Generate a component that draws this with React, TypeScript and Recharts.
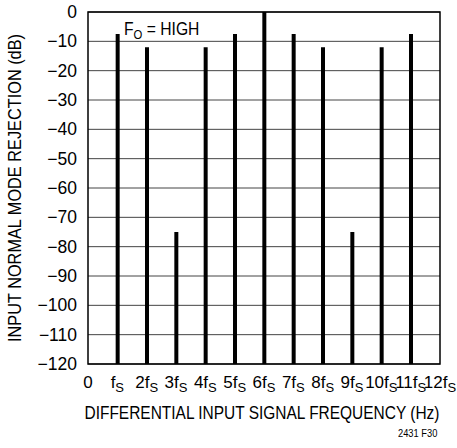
import { BarChart, Bar, XAxis, YAxis, CartesianGrid, ReferenceArea } from 'recharts';

// harmonics of fS and their rejection (dB)
const harmonics = [1, 2, 3, 4, 5, 6, 7, 8, 9, 10, 11];
const rejection = [-7.5, -12, -75, -12, -7.5, 0, -7.5, -12, -75, -12, -7.5];
const xTicks = [0, 1, 2, 3, 4, 5, 6, 7, 8, 9, 10, 11, 12];
const yTicks = [0, -10, -20, -30, -40, -50, -60, -70, -80, -90, -100, -110, -120];

const FONT = "'Liberation Sans', Arial, Helvetica, sans-serif";

const data = harmonics.map((h, i) => ({ h, db: rejection[i] }));

const XTick = (props: any) => {
  const { x, y, payload } = props;
  const n = payload.value;
  if (n === 0) {
    return (
      <text x={x} y={y + 16} textAnchor="middle" fontSize={17} fontFamily={FONT} fill="#000">0</text>
    );
  }
  return (
    <text x={x} y={y + 16} textAnchor="middle" fontSize={17} fontFamily={FONT} fill="#000">
      <tspan>{n === 1 ? '' : n}f</tspan>
      <tspan dy={4} fontSize={13}>S</tspan>
    </text>
  );
};

const YTick = (props: any) => {
  const { y, payload } = props;
  const v = payload.value;
  return (
    <text x={77} y={y + 6} textAnchor="end" fontSize={17.5} fontFamily={FONT} fill="#000">
      {v < 0 ? `\u2212${Math.abs(v)}` : v}
    </text>
  );
};

const XTitle = () => (
  <text
    x={262}
    y={419}
    textAnchor="middle"
    fontSize={18}
    fontFamily={FONT}
    fill="#000"
    textLength={355}
    lengthAdjust="spacingAndGlyphs"
  >
    DIFFERENTIAL INPUT SIGNAL FREQUENCY (Hz)
  </text>
);

const YTitle = () => (
  <text
    x={21}
    y={188}
    transform="rotate(-90, 21, 188)"
    textAnchor="middle"
    fontSize={18.5}
    fontFamily={FONT}
    fill="#000"
    textLength={308}
    lengthAdjust="spacingAndGlyphs"
  >
    INPUT NORMAL MODE REJECTION (dB)
  </text>
);

export default function App() {
  return (
    <div style={{ position: 'absolute', left: 0, top: 0, width: 457, height: 448, background: '#fff' }}>
      <BarChart
        width={457}
        height={448}
        data={data}
        margin={{ top: 12, right: 17, bottom: 0, left: 0 }}
      >
        <CartesianGrid vertical={false} stroke="#444" strokeWidth={1} />
        <XAxis
          dataKey="h"
          type="number"
          domain={[0, 12]}
          ticks={xTicks}
          interval={0}
          height={84}
          axisLine={false}
          tickLine={false}
          tick={<XTick />}
          label={{ content: () => <XTitle /> }}
        />
        <YAxis
          type="number"
          domain={[-120, 0]}
          ticks={yTicks}
          interval={0}
          width={88}
          axisLine={false}
          tickLine={false}
          tick={<YTick />}
          label={{ content: () => <YTitle /> }}
        />
        <ReferenceArea x1={0} x2={12} y1={-120} y2={0} fill="none" stroke="#000" strokeWidth={1.5} ifOverflow="visible" />
        <Bar dataKey={(d: any) => [-120, d.db]} barSize={4} fill="#000" isAnimationActive={false} />
      </BarChart>
      <div
        style={{
          position: 'absolute',
          left: 124,
          top: 19,
          fontFamily: FONT,
          fontSize: 18,
          lineHeight: '20px',
          color: '#000',
          whiteSpace: 'nowrap',
          transform: 'scaleX(0.87)',
          transformOrigin: 'left top',
        }}
      >
        F<span style={{ fontSize: 13, position: 'relative', top: 4 }}>O</span> = HIGH
      </div>
      <div
        style={{
          position: 'absolute',
          left: 398,
          top: 428,
          fontFamily: FONT,
          fontSize: 10,
          color: '#000',
          whiteSpace: 'nowrap',
          transform: 'scaleX(0.93)',
          transformOrigin: 'left top',
        }}
      >
        2431 F30
      </div>
    </div>
  );
}
